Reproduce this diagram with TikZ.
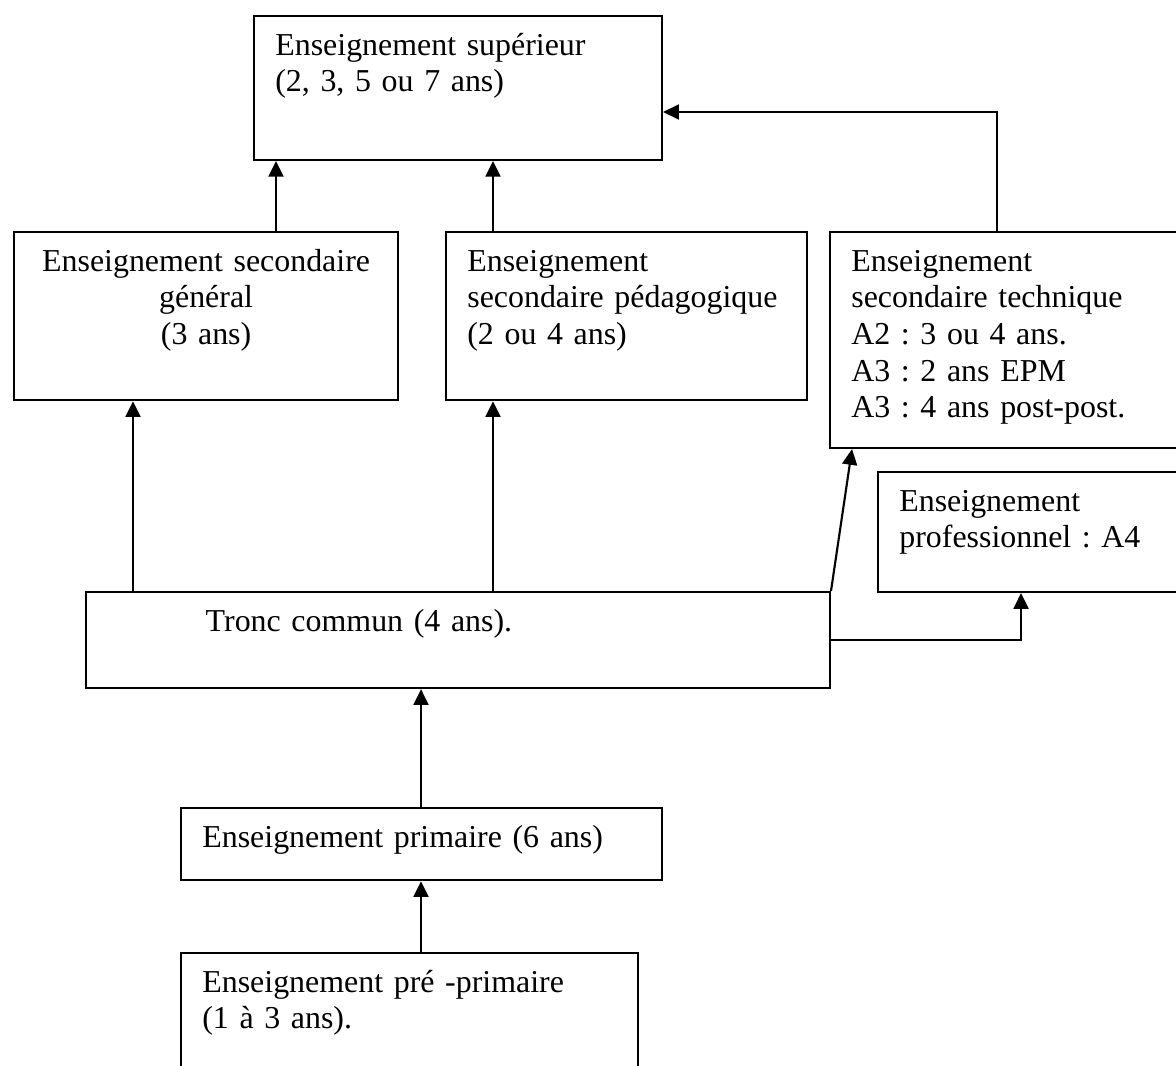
\documentclass[tikz,border=0pt]{standalone}
\usepackage{fontspec}
\setmainfont{Liberation Serif}
\usetikzlibrary{arrows.meta}
\frenchspacing

\begin{document}
\begin{tikzpicture}[x=0.376pt,y=-0.376pt,
  line width=0.8pt,
  box/.style={draw,rectangle,anchor=north west,inner xsep=8pt,inner ysep=0pt,
    align=left,text height=14.7pt,font=\fontsize{12pt}{13.8pt}\selectfont},
  arr/.style={-{Triangle[length=5.9pt,width=5.6pt]}}
]
\path[use as bounding box,fill=white] (0,0) rectangle (1176,1065);
\clip (0,0) rectangle (1176,1065);

% the levels
\node[box,text width=137.4pt,text depth=39.4pt] (sup) at (253,15)
  {Enseignement supérieur\\(2, 3, 5 ou 7 ans)};
\node[box,align=center,text width=128.4pt,text depth=48.5pt] (gen) at (13,231)
  {Enseignement secondaire\\général\\(3 ans)};
\node[box,text width=119.7pt,text depth=48.5pt] (ped) at (445,231)
  {Enseignement\\secondaire pédagogique\\(2 ou 4 ans)};
\node[box,text width=117.9pt,text depth=66.5pt] (tech) at (829,231)
  {Enseignement\\secondaire technique\\A2 : 3 ou 4 ans.\\A3 : 2 ans EPM\\A3 : 4 ans post-post.};
\node[box,text width=99.8pt,text depth=30.4pt] (prof) at (877,471)
  {Enseignement\\professionnel : A4};
\node[box,text width=263.7pt,text depth=21.4pt] (tronc) at (85,591)
  {\hspace*{37pt}Tronc commun (4 ans).};
\node[box,text width=164.9pt,text depth=12.4pt] (prim) at (180,807)
  {Enseignement primaire (6 ans)};
\node[box,text width=155.8pt,text depth=37.2pt] (pre) at (180,952)
  {Enseignement pré -primaire\\(1 à 3 ans).};

% where the arrows run
\coordinate (xa) at (276,0);
\coordinate (xb) at (493,0);
\coordinate (xc) at (133,0);
\coordinate (xd) at (421,0);
\coordinate (xe) at (997,112);
\coordinate (xf) at (1021,0);
\coordinate (xg) at (852,0);

% the arrows
\foreach \x/\a/\b in {xa/gen/sup,xb/ped/sup,xc/tronc/gen,xb/tronc/ped,xd/prim/tronc,xd/pre/prim}
  \draw[arr] (\x |- \a.north) -- (\x |- \b.south);
\draw[arr] (tronc.north east) -- (xg |- tech.south);
\draw[arr] (tronc.east) -| (xf |- prof.south);
\draw[arr] (xe |- tech.north) -- (xe) -- (xe -| sup.east);
\end{tikzpicture}
\end{document}
